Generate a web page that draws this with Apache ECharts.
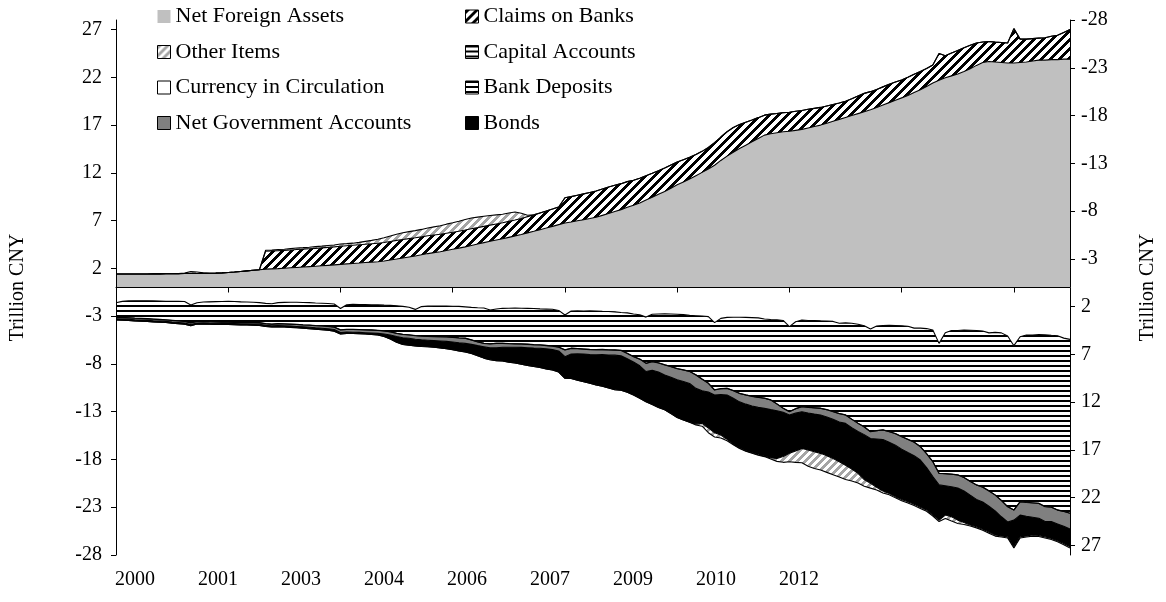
<!DOCTYPE html>
<html>
<head>
<meta charset="utf-8">
<script src="https://cdn.jsdelivr.net/npm/echarts@6/dist/echarts.min.js"></script>
<style>html,body{margin:0;padding:0;background:#fff}#chart{width:1166px;height:602px}</style>
</head>
<body>
<div id="chart"></div>
<script>
// Monthly, Jan 2000 .. Oct 2012 (154 months), trillion CNY
const yearLabels = ['2000','2001','2003','2004','2006','2007','2009','2010','2012'];
const leftTicks = [-28,-23,-18,-13,-8,-3,2,7,12,17,22,27];

const netForeignAssets = [
1.41,1.41,1.41,1.42,1.42,1.42,1.43,1.43,1.44,1.44,1.45,1.46,
1.46,1.47,1.48,1.49,1.50,1.53,1.57,1.62,1.68,1.74,1.80,1.86,
1.92,1.95,1.98,2.02,2.06,2.10,2.14,2.18,2.22,2.27,2.32,2.37,
2.42,2.47,2.52,2.56,2.61,2.66,2.70,2.78,2.88,2.98,3.09,3.20,
3.30,3.42,3.55,3.65,3.75,3.88,4.00,4.12,4.25,4.40,4.55,4.70,
4.85,4.98,5.10,5.25,5.40,5.55,5.72,5.88,6.05,6.22,6.40,6.58,
6.75,6.85,6.98,7.10,7.22,7.35,7.55,7.75,7.95,8.15,8.40,8.60,
8.85,9.15,9.45,9.75,10.05,10.40,10.75,11.05,11.35,11.70,12.05,12.40,
12.80,13.30,13.75,14.15,14.55,14.90,15.25,15.60,15.95,16.10,16.20,16.30,
16.35,16.45,16.55,16.70,16.85,17.00,17.20,17.40,17.60,17.80,18.00,18.20,
18.40,18.60,18.85,19.10,19.35,19.60,19.85,20.10,20.40,20.70,21.05,21.40,
21.70,21.95,22.15,22.35,22.60,22.90,23.25,23.55,23.65,23.60,23.55,23.50,
23.50,23.55,23.60,23.70,23.80,23.80,23.85,23.85,23.90,23.90];

const claimsOnBanks = [
0,0,0,0,0,0,0,0,0,0,0,0,
0,0,0,0,0,0,0,0,0,0,0,0,
1.88,1.88,1.87,1.87,1.87,1.88,1.88,1.88,1.88,1.88,1.88,1.88,
1.89,1.90,1.90,1.91,1.92,1.92,1.93,1.93,1.94,1.95,1.94,1.92,
1.90,1.88,1.86,1.84,1.82,1.80,1.78,1.77,1.76,1.75,1.72,1.70,
1.68,1.67,1.67,1.67,1.67,1.68,1.70,1.72,1.75,1.78,1.81,1.85,
2.64,2.66,2.68,2.70,2.72,2.75,2.76,2.76,2.75,2.72,2.68,2.62,
2.58,2.55,2.50,2.47,2.45,2.42,2.38,2.33,2.28,2.22,2.20,2.25,
2.35,2.45,2.55,2.60,2.50,2.40,2.28,2.18,2.09,2.05,2.02,2.00,
2.00,2.00,1.98,1.95,1.90,1.85,1.80,1.75,1.72,1.70,1.75,1.85,
1.92,1.90,1.88,1.90,1.92,1.90,1.88,1.90,1.92,1.90,1.88,1.90,
2.80,2.30,2.40,2.45,2.50,2.45,2.35,2.15,2.10,2.08,2.10,2.10,
3.60,2.45,2.40,2.35,2.30,2.35,2.45,2.55,2.80,3.10];

// signed: positive part stacks on assets, negative part below liabilities
const otherItems = [
0,0,0,0,0,0,0,0,0,0,0,0.05,
0.20,0.15,0.05,0,0,0,0,0,0,0,0,0,
0.10,0.10,0.12,0.12,0.14,0.15,0.15,0.16,0.18,0.18,0.20,0.20,
0.25,0.22,0.22,0.25,0.30,0.35,0.42,0.50,0.58,0.65,0.70,0.73,
0.75,0.78,0.82,0.86,0.90,0.95,1.00,1.05,1.10,1.12,1.10,1.05,
1.00,0.95,0.90,0.87,0.83,0.55,0.15,0,0,0,0,0,
0,0,0,0,0,0,0,0,0,0,0,0,
0,0,0,0,0,0,0,0,0,-0.10,-0.30,-0.50,
-0.45,-0.30,-0.15,-0.05,-0.05,-0.05,-0.05,-0.05,-0.05,-0.10,-0.30,-0.60,
-0.88,-1.20,-1.50,-1.70,-1.75,-1.75,-1.75,-1.70,-1.60,-1.50,-1.25,-1.00,
-0.70,-0.50,-0.30,-0.20,-0.15,-0.12,-0.12,-0.12,-0.12,-0.12,-0.12,-0.12,
-0.15,-0.35,-0.45,-0.35,-0.20,-0.12,-0.12,-0.12,-0.12,-0.12,-0.12,-0.12,
-0.12,-0.12,-0.12,-0.12,-0.12,-0.12,-0.12,-0.12,-0.12,-0.12];

const currency = [
-1.59,-1.45,-1.40,-1.38,-1.38,-1.39,-1.40,-1.41,-1.45,-1.44,-1.45,-1.47,
-1.83,-1.59,-1.52,-1.50,-1.48,-1.47,-1.45,-1.46,-1.50,-1.52,-1.54,-1.58,
-1.66,-1.70,-1.58,-1.56,-1.55,-1.55,-1.57,-1.58,-1.62,-1.65,-1.68,-1.73,
-2.20,-1.80,-1.76,-1.78,-1.79,-1.80,-1.82,-1.85,-1.87,-1.92,-1.98,-2.07,
-2.29,-2.00,-1.95,-1.94,-1.93,-1.94,-1.96,-1.98,-2.03,-2.08,-2.12,-2.15,
-2.36,-2.25,-2.18,-2.17,-2.16,-2.17,-2.18,-2.20,-2.24,-2.26,-2.28,-2.40,
-2.88,-2.46,-2.45,-2.46,-2.45,-2.47,-2.50,-2.52,-2.55,-2.62,-2.66,-2.78,
-2.85,-3.10,-2.80,-2.77,-2.76,-2.78,-2.80,-2.84,-2.92,-2.95,-2.98,-3.05,
-3.68,-3.23,-3.13,-3.12,-3.12,-3.13,-3.15,-3.18,-3.30,-3.35,-3.38,-3.45,
-4.10,-3.58,-3.40,-3.45,-3.45,-3.48,-3.50,-3.55,-3.75,-3.70,-3.75,-3.85,
-4.00,-4.35,-4.03,-3.98,-3.95,-3.97,-4.00,-4.05,-4.25,-4.25,-4.30,-4.45,
-5.85,-4.73,-4.50,-4.50,-4.45,-4.47,-4.50,-4.55,-4.75,-4.70,-4.75,-5.08,
-6.09,-5.15,-4.98,-4.97,-4.93,-4.94,-5.00,-5.05,-5.30,-5.43];

const bankDeposits = [
-1.51,-1.68,-1.76,-1.82,-1.85,-1.87,-1.90,-1.93,-1.93,-1.99,-2.03,-2.06,
-1.85,-1.94,-2.01,-2.06,-2.10,-2.13,-2.16,-2.17,-2.14,-2.13,-2.12,-2.10,
-2.12,-2.13,-2.20,-2.24,-2.28,-2.31,-2.33,-2.35,-2.36,-2.36,-2.38,-2.40,
-2.23,-2.58,-2.62,-2.62,-2.63,-2.64,-2.66,-2.69,-2.77,-2.86,-2.92,-2.88,
-2.74,-3.08,-3.15,-3.18,-3.21,-3.22,-3.24,-3.28,-3.27,-3.40,-3.56,-3.68,
-3.52,-3.58,-3.65,-3.69,-3.72,-3.73,-3.75,-3.78,-3.76,-3.80,-3.85,-3.83,
-3.64,-3.89,-3.93,-3.97,-4.03,-4.03,-3.98,-4.00,-3.98,-3.96,-4.22,-4.44,
-4.63,-4.82,-4.95,-5.11,-5.32,-5.49,-5.68,-5.78,-5.86,-6.19,-6.60,-6.96,
-7.03,-7.35,-7.41,-7.66,-7.96,-8.11,-8.23,-8.30,-8.28,-8.41,-8.80,-9.18,
-8.88,-9.10,-9.06,-9.08,-9.13,-9.15,-9.28,-9.43,-9.43,-9.63,-10.03,-10.35,
-10.58,-10.73,-10.95,-10.92,-11.13,-11.31,-11.60,-11.83,-11.93,-12.40,-13.08,-13.77,
-13.59,-14.75,-15.03,-15.11,-15.43,-15.81,-16.16,-16.33,-16.53,-17.01,-17.53,-17.85,
-17.19,-17.26,-17.50,-17.56,-17.65,-17.99,-17.98,-18.23,-18.13,-18.19];

const capitalAccounts = [
-0.02,-0.02,-0.02,-0.02,-0.02,-0.02,-0.02,-0.02,-0.02,-0.02,-0.02,-0.02,
-0.02,-0.02,-0.02,-0.02,-0.02,-0.02,-0.02,-0.02,-0.02,-0.02,-0.02,-0.02,
-0.02,-0.02,-0.02,-0.02,-0.02,-0.02,-0.02,-0.02,-0.02,-0.02,-0.02,-0.02,
-0.02,-0.02,-0.02,-0.02,-0.02,-0.02,-0.02,-0.02,-0.02,-0.02,-0.02,-0.02,
-0.02,-0.02,-0.02,-0.02,-0.02,-0.02,-0.02,-0.02,-0.02,-0.02,-0.02,-0.02,
-0.02,-0.02,-0.02,-0.02,-0.02,-0.02,-0.02,-0.02,-0.02,-0.02,-0.02,-0.02,
-0.02,-0.02,-0.02,-0.02,-0.02,-0.02,-0.02,-0.02,-0.02,-0.02,-0.02,-0.02,
-0.02,-0.02,-0.02,-0.02,-0.02,-0.02,-0.02,-0.02,-0.02,-0.02,-0.02,-0.02,
-0.02,-0.02,-0.02,-0.02,-0.02,-0.02,-0.02,-0.02,-0.02,-0.02,-0.02,-0.02,
-0.02,-0.02,-0.02,-0.02,-0.02,-0.02,-0.02,-0.02,-0.02,-0.02,-0.02,-0.02,
-0.02,-0.02,-0.02,-0.02,-0.02,-0.02,-0.02,-0.02,-0.02,-0.02,-0.02,-0.02,
-0.02,-0.02,-0.02,-0.02,-0.02,-0.02,-0.02,-0.02,-0.02,-0.02,-0.02,-0.02,
-0.02,-0.02,-0.02,-0.02,-0.02,-0.02,-0.02,-0.02,-0.02,-0.02];

const netGovernment = [
-0.15,-0.14,-0.14,-0.15,-0.15,-0.16,-0.16,-0.15,-0.15,-0.16,-0.16,-0.17,
-0.17,-0.16,-0.15,-0.15,-0.14,-0.14,-0.13,-0.13,-0.14,-0.14,-0.15,-0.15,
-0.16,-0.17,-0.18,-0.18,-0.19,-0.20,-0.20,-0.21,-0.22,-0.23,-0.24,-0.25,
-0.26,-0.27,-0.28,-0.28,-0.29,-0.30,-0.30,-0.31,-0.32,-0.33,-0.34,-0.35,
-0.36,-0.38,-0.40,-0.42,-0.44,-0.46,-0.48,-0.50,-0.53,-0.45,-0.38,-0.35,
-0.42,-0.45,-0.40,-0.38,-0.36,-0.35,-0.35,-0.34,-0.34,-0.34,-0.35,-0.40,
-0.70,-0.59,-0.55,-0.52,-0.52,-0.53,-0.53,-0.53,-0.53,-0.55,-0.56,-0.55,
-0.70,-0.86,-0.90,-0.95,-1.05,-1.10,-1.15,-1.20,-1.25,-1.40,-1.20,-0.90,
-0.53,-0.60,-0.70,-0.80,-0.87,-0.95,-1.00,-1.05,-1.05,-1.00,-0.70,-0.40,
-0.35,-0.45,-0.52,-0.58,-0.65,-0.70,-0.75,-0.80,-0.87,-0.87,-0.88,-0.85,
-0.80,-0.70,-0.85,-1.00,-1.10,-1.20,-1.30,-1.38,-1.40,-1.39,-1.45,-1.56,
-1.20,-1.25,-1.30,-1.35,-1.40,-1.45,-1.50,-1.55,-1.60,-1.65,-1.70,-1.60,
-1.05,-1.40,-1.45,-1.50,-1.55,-1.55,-1.50,-1.45,-1.55,-1.65];

const bonds = [
-0.12,-0.12,-0.12,-0.12,-0.12,-0.12,-0.12,-0.12,-0.12,-0.12,-0.12,-0.12,
-0.12,-0.12,-0.12,-0.12,-0.12,-0.12,-0.12,-0.12,-0.12,-0.12,-0.12,-0.12,
-0.12,-0.12,-0.12,-0.13,-0.13,-0.14,-0.14,-0.15,-0.15,-0.16,-0.16,-0.17,
-0.15,-0.15,-0.14,-0.14,-0.14,-0.15,-0.16,-0.25,-0.40,-0.60,-0.70,-0.72,
-0.72,-0.70,-0.68,-0.70,-0.72,-0.76,-0.80,-0.85,-0.90,-0.95,-1.05,-1.19,
-1.25,-1.35,-1.45,-1.55,-1.65,-1.75,-1.85,-1.93,-2.00,-2.10,-2.14,-2.20,
-2.26,-2.55,-2.75,-2.89,-3.00,-3.14,-3.30,-3.45,-3.62,-3.60,-3.50,-3.47,
-3.40,-3.15,-3.58,-3.70,-3.65,-3.81,-3.95,-4.03,-4.05,-3.74,-3.42,-3.77,
-3.94,-4.25,-4.64,-4.80,-4.83,-4.89,-4.90,-4.95,-5.00,-5.07,-5.00,-4.65,
-4.01,-3.95,-3.84,-3.87,-3.95,-4.01,-4.05,-4.10,-4.17,-4.38,-4.32,-4.39,
-4.70,-4.70,-5.05,-5.38,-5.35,-5.40,-5.28,-5.15,-5.10,-4.94,-4.45,-4.00,
-3.69,-3.07,-3.15,-3.37,-3.30,-3.10,-2.86,-2.85,-2.70,-2.52,-2.00,-1.55,
-2.79,-2.27,-2.05,-1.85,-1.80,-1.60,-1.76,-1.75,-1.80,-1.85];

const months = [];
for (let y = 2000; y <= 2012; y++) for (let m = 1; m <= 12; m++) if (months.length < netForeignAssets.length) months.push(y + '-' + String(m).padStart(2, '0'));

function makePattern(w, h, fn) {
  const c = document.createElement('canvas');
  c.width = w; c.height = h;
  const ctx = c.getContext('2d');
  const img = ctx.createImageData(w, h);
  for (let y = 0; y < h; y++) for (let x = 0; x < w; x++) {
    const v = fn(x, y); const k = (y * w + x) * 4;
    img.data[k] = v[0]; img.data[k + 1] = v[1]; img.data[k + 2] = v[2]; img.data[k + 3] = 255;
  }
  ctx.putImageData(img, 0, 0);
  return { image: c, repeat: 'repeat' };
}
const claimsFill = makePattern(9, 9, (x, y) => ((x + y) % 9) < 4 ? [0, 0, 0] : [255, 255, 255]);
const otherFill = makePattern(8, 8, (x, y) => ((x + y) % 8) < 4 ? [165, 165, 165] : [255, 255, 255]);
const stripeFill = makePattern(4, 5, (x, y) => y < 2 ? [0, 0, 0] : [255, 255, 255]);

const FONT = 'Liberation Serif';
function area(name, data, fill) {
  return {
    name, type: 'line', stack: 'bs', stackStrategy: 'samesign', data,
    symbol: 'none', showSymbol: false, silent: true,
    lineStyle: { color: '#000', width: 1.1 },
    itemStyle: { color: '#000' },
    areaStyle: { color: fill, opacity: 1 },
    emphasis: { disabled: true }
  };
}
const otherPos = otherItems.map(v => v > 0 ? v : 0);
const otherNeg = otherItems.map(v => v < 0 ? v : 0);

const border = { borderColor: '#000', borderWidth: 1 };
const legendText = { fontFamily: FONT, fontSize: 22, color: '#000', lineHeight: 22 };
const legendBase = { orient: 'vertical', top: 5.5, padding: 0, itemGap: 13.5, itemWidth: 13, itemHeight: 13,
  icon: 'rect', selectedMode: false, textStyle: legendText };
const chart = echarts.init(document.getElementById('chart'), null, { renderer: 'canvas' });
chart.setOption({
  animation: false,
  backgroundColor: '#fff',
  grid: [
    { left: 115, right: 94, top: 20, bottom: 47 },
    { left: 135, right: 367, top: 560, height: 2 }
  ],
  legend: [
    Object.assign({}, legendBase, { left: 157,
      data: [
        { name: 'Net Foreign Assets', itemStyle: { color: '#c0c0c0', borderWidth: 0 } },
        { name: 'Other Items', itemStyle: Object.assign({ color: otherFill }, border) },
        { name: 'Currency in Circulation', itemStyle: Object.assign({ color: '#fff' }, border) },
        { name: 'Net Government Accounts', itemStyle: Object.assign({ color: '#808080' }, border) }
      ] }),
    Object.assign({}, legendBase, { left: 465,
      data: [
        { name: 'Claims on Banks', itemStyle: Object.assign({ color: claimsFill }, border) },
        { name: 'Capital Accounts', itemStyle: Object.assign({ color: stripeFill }, border) },
        { name: 'Bank Deposits', itemStyle: Object.assign({ color: stripeFill }, border) },
        { name: 'Bonds', itemStyle: Object.assign({ color: '#000' }, border) }
      ] })
  ],
  xAxis: [
    { type: 'category', gridIndex: 0, data: months, boundaryGap: false, z: 10,
      axisLine: { onZero: true, lineStyle: { color: '#000', width: 1 } },
      axisTick: { show: true, interval: 17, length: 5, inside: false, lineStyle: { color: '#000' } },
      axisLabel: { show: false }, splitLine: { show: false } },
    { type: 'value', gridIndex: 1, min: 0, max: yearLabels.length - 1, interval: 1,
      axisLine: { show: false }, axisTick: { show: false }, splitLine: { show: false },
      axisLabel: { margin: 8, fontFamily: FONT, fontSize: 20, color: '#000',
        formatter: v => yearLabels[v] || '' } }
  ],
  yAxis: [
    { type: 'value', gridIndex: 0, position: 'left', min: -28, max: 28, interval: 5, z: 10,
      name: 'Trillion CNY', nameLocation: 'middle', nameRotate: 90, nameGap: 88,
      nameTextStyle: { fontFamily: FONT, fontSize: 20, color: '#000' },
      axisLine: { show: true, lineStyle: { color: '#000' } },
      axisTick: { show: true, length: 5, lineStyle: { color: '#000' }, customValues: leftTicks },
      axisLabel: { margin: 14, fontFamily: FONT, fontSize: 20, color: '#000', customValues: leftTicks,
        formatter: v => (v === 28 ? '' : String(v)) },
      splitLine: { show: false } },
    { type: 'value', gridIndex: 0, position: 'right', inverse: true, min: -28, max: 28, interval: 5, z: 10,
      name: 'Trillion CNY', nameLocation: 'middle', nameRotate: 90, nameGap: 68,
      nameTextStyle: { fontFamily: FONT, fontSize: 20, color: '#000' },
      axisLine: { show: true, lineStyle: { color: '#000' } },
      axisTick: { show: true, length: 5, lineStyle: { color: '#000' }, customValues: leftTicks },
      axisLabel: { margin: 11, fontFamily: FONT, fontSize: 20, color: '#000', customValues: leftTicks,
        formatter: v => (v === 28 ? '' : String(v)) },
      splitLine: { show: false } },
    { type: 'value', gridIndex: 1, show: false }
  ],
  series: [
    area('Net Foreign Assets', netForeignAssets, '#c0c0c0'),
    area('Claims on Banks', claimsOnBanks, claimsFill),
    area('Other Items', otherPos, otherFill),
    area('Currency in Circulation', currency, '#ffffff'),
    area('Bank Deposits', bankDeposits, stripeFill),
    area('Capital Accounts', capitalAccounts, stripeFill),
    area('Net Government Accounts', netGovernment, '#808080'),
    area('Bonds', bonds, '#000000'),
    area('Other Items', otherNeg, otherFill)
  ]
});
</script>
</body>
</html>
